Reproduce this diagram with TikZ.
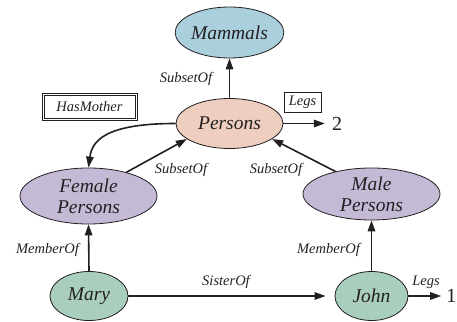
\documentclass[tikz,border=0pt]{standalone}
\usepackage{fontspec}
\setmainfont{Liberation Serif}
\usetikzlibrary{arrows.meta,shapes.geometric}
\definecolor{cblue}{HTML}{AAD0DE}
\definecolor{cpeach}{HTML}{EECEBE}
\definecolor{clav}{HTML}{C4BAD6}
\definecolor{cgreen}{HTML}{AACEBE}
\definecolor{ink}{HTML}{231F20}
\tikzset{
  concept/.style={ellipse, draw=ink, line width=0.8pt, inner sep=0pt, align=center,
    text=ink, font=\itshape\fontsize{19.5}{21}\selectfont},
  lbl/.style={text=ink, font=\itshape\fontsize{14.5}{16}\selectfont, inner sep=0pt},
  val/.style={text=ink, font=\fontsize{20}{22}\selectfont, inner sep=0pt},
  rel/.style={draw=ink, line width=1.6pt, -{Triangle[length=11pt,width=7.5pt]}},
  boxlbl/.style={lbl, draw=ink, line width=0.7pt, minimum width=37pt, minimum height=20pt},
  dblbox/.style={lbl, draw=ink, line width=0.7pt, minimum width=95pt, minimum height=27pt},
  innerframe/.style={draw=ink, line width=0.7pt}
}
\begin{document}
\begin{tikzpicture}[x=1pt,y=1pt]
\useasboundingbox (0,0) rectangle (457,321);
\node[concept, fill=cblue, minimum width=107pt, minimum height=51pt] (mammals) at (229.5,288.5) {Mammals};
\node[concept, fill=cpeach, minimum width=107pt, minimum height=50pt] (persons) at (229.5,197.5) {Persons};
\node[concept, fill=clav, minimum width=137pt, minimum height=56pt] (female) at (88.5,125) {Female\\Persons};
\node[concept, fill=clav, minimum width=137pt, minimum height=52pt] (male) at (371.5,127) {Male\\Persons};
\node[concept, fill=cgreen, minimum width=78pt, minimum height=49pt] (mary) at (89,25) {Mary};
\node[concept, fill=cgreen, minimum width=73pt, minimum height=49pt] (john) at (371.5,25) {John};
\node[dblbox] (hasmother) at (89.5,214.5) {HasMother};
\draw[innerframe] ([shift={(2.4pt,2.4pt)}]hasmother.south west) rectangle ([shift={(-2.4pt,-2.4pt)}]hasmother.north east);
\node[boxlbl] (legsbox) at (302.5,219) {Legs};
\node[val] (two) at (337,197.5) {2};
\node[val, anchor=east] (one) at (456.5,25) {1};
\node[lbl] (lsubtop) at (186,242) {SubsetOf};
\node[lbl] (lsubleft) at (181,151) {SubsetOf};
\node[lbl] (lsubright) at (276,151) {SubsetOf};
\node[lbl] (lmemleft) at (47.5,71) {MemberOf};
\node[lbl] (lmemright) at (328.5,71) {MemberOf};
\node[lbl] (lsister) at (226,39) {SisterOf};
\node[lbl] (llegs) at (426,39) {Legs};
\draw[rel] (persons.north) -- (mammals.south);
\draw[rel] (persons.west) .. controls (105,197.5) and (92,180) .. (female.north);
\draw[rel] (female.32) -- (persons.200);
\draw[rel] (male.148) -- (persons.340);
\draw[rel] (persons.east) -- ([xshift=-7pt]two.west);
\draw[rel] (mary.north) -- (female.south);
\draw[rel] (john.north) -- (male.south);
\draw[rel, shorten >=9pt] (mary.east) -- (john.west);
\draw[rel] (john.east) -- ([xshift=-5pt]one.west);
\end{tikzpicture}
\end{document}
